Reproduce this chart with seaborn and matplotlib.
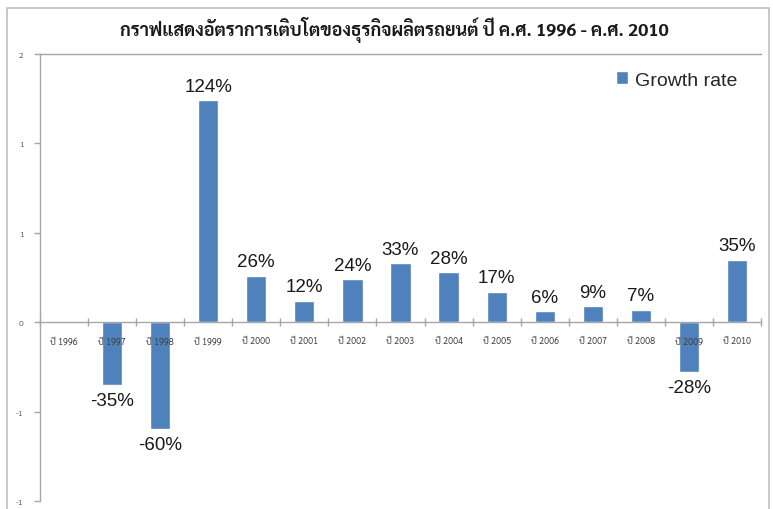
import matplotlib
matplotlib.use("Agg")
import matplotlib.pyplot as plt
import seaborn as sns
import pandas as pd
from matplotlib.patches import Rectangle
from matplotlib.ticker import FixedLocator, FixedFormatter

years = ["ปี 1996", "ปี 1997", "ปี 1998", "ปี 1999", "ปี 2000", "ปี 2001", "ปี 2002",
         "ปี 2003", "ปี 2004", "ปี 2005", "ปี 2006", "ปี 2007", "ปี 2008", "ปี 2009", "ปี 2010"]
growth = [0.0, -0.35, -0.60, 1.24, 0.26, 0.12, 0.24, 0.33, 0.28, 0.17, 0.06, 0.09, 0.07, -0.28, 0.35]
point_labels = ["", "-35%", "-60%", "124%", "26%", "12%", "24%", "33%", "28%", "17%",
                "6%", "9%", "7%", "-28%", "35%"]
ytick_values = [-1.0, -0.5, 0.0, 0.5, 1.0, 1.5]
ytick_labels = ["-1", "-1", "0", "1", "1", "2"]
title = "กราฟแสดงอัตราการเติบโตของธุรกิจผลิตรถยนต์ ปี ค.ศ. 1996 - ค.ศ. 2010"
series_name = "Growth rate"

df = pd.DataFrame({"year": years, "growth": growth})

sns.set_theme(style="white")
thai = ["Sarabun", "DejaVu Sans"]
latin = ["Liberation Sans", "DejaVu Sans"]
plt.rcParams["font.family"] = thai

W, H = 773, 510
fig = plt.figure(figsize=(W / 100, H / 100), dpi=100)
ax = fig.add_axes([40 / W, 1 - 502 / H, (761 - 40) / W, (502 - 55) / H])

sns.barplot(data=df, x="year", y="growth", color="#4F81BD", width=0.42,
            saturation=1, ax=ax, label=series_name)
ax.set_axisbelow(False)

ax.set_xlim(-0.5, len(years) - 0.5)
ax.set_ylim(-1.0, 1.5)
ax.set_xlabel("")
ax.set_ylabel("")

# spines
for s in ["left", "bottom", "top"]:
    ax.spines[s].set_color("#A6A6A6")
    ax.spines[s].set_linewidth(1.0)
ax.spines["right"].set_visible(False)
ax.spines["bottom"].set_position(("data", 0))

# y ticks
ax.yaxis.set_major_locator(FixedLocator(ytick_values))
ax.yaxis.set_major_formatter(FixedFormatter(ytick_labels))
ax.tick_params(axis="y", which="major", direction="out", length=4, width=1,
               color="#A6A6A6", labelsize=6, labelcolor="#595959", pad=8, left=True)

# x ticks: boundaries as major ticks, labels on minor ticks at centers
n = len(years)
ax.xaxis.set_major_locator(FixedLocator([i - 0.5 for i in range(n + 1)]))
ax.xaxis.set_major_formatter(FixedFormatter([""] * (n + 1)))
ax.xaxis.set_minor_locator(FixedLocator(list(range(n))))
ax.xaxis.set_minor_formatter(FixedFormatter(years))
ax.tick_params(axis="x", which="major", direction="inout", length=6, width=1,
               color="#A6A6A6", bottom=True)
ax.tick_params(axis="x", which="minor", length=0, labelsize=6.5,
               labelcolor="#404040", pad=10, bottom=True)

# data labels
for i, (v, lab) in enumerate(zip(growth, point_labels)):
    if not lab:
        continue
    if v >= 0:
        ax.annotate(lab, (i, v), xytext=(0, 4), textcoords="offset points",
                    ha="center", va="bottom", fontsize=13.5,
                    family=latin, color="#1a1a1a")
    else:
        ax.annotate(lab, (i, v), xytext=(0, -5), textcoords="offset points",
                    ha="center", va="top", fontsize=13.5,
                    family=latin, color="#1a1a1a")

# legend
leg = ax.legend(loc="center left", bbox_to_anchor=(598 / W, 1 - 81 / H),
                bbox_transform=fig.transFigure, frameon=False,
                handlelength=0.65, handleheight=0.65, handletextpad=0.35,
                prop={"family": latin, "size": 14})

# title
fig.text(394 / W, 1 - 30 / H, title, ha="center", va="center", fontsize=13,
         fontweight="bold", color="#1a1a1a", family=thai)

# outer chart border
fig.patches.append(Rectangle((7 / W, -0.01), (769 - 7) / W, 1 - 9 / H + 0.01,
                             transform=fig.transFigure, fill=False,
                             edgecolor="#BFBFBF", linewidth=1.2))

fig.savefig("out.png", dpi=100)
